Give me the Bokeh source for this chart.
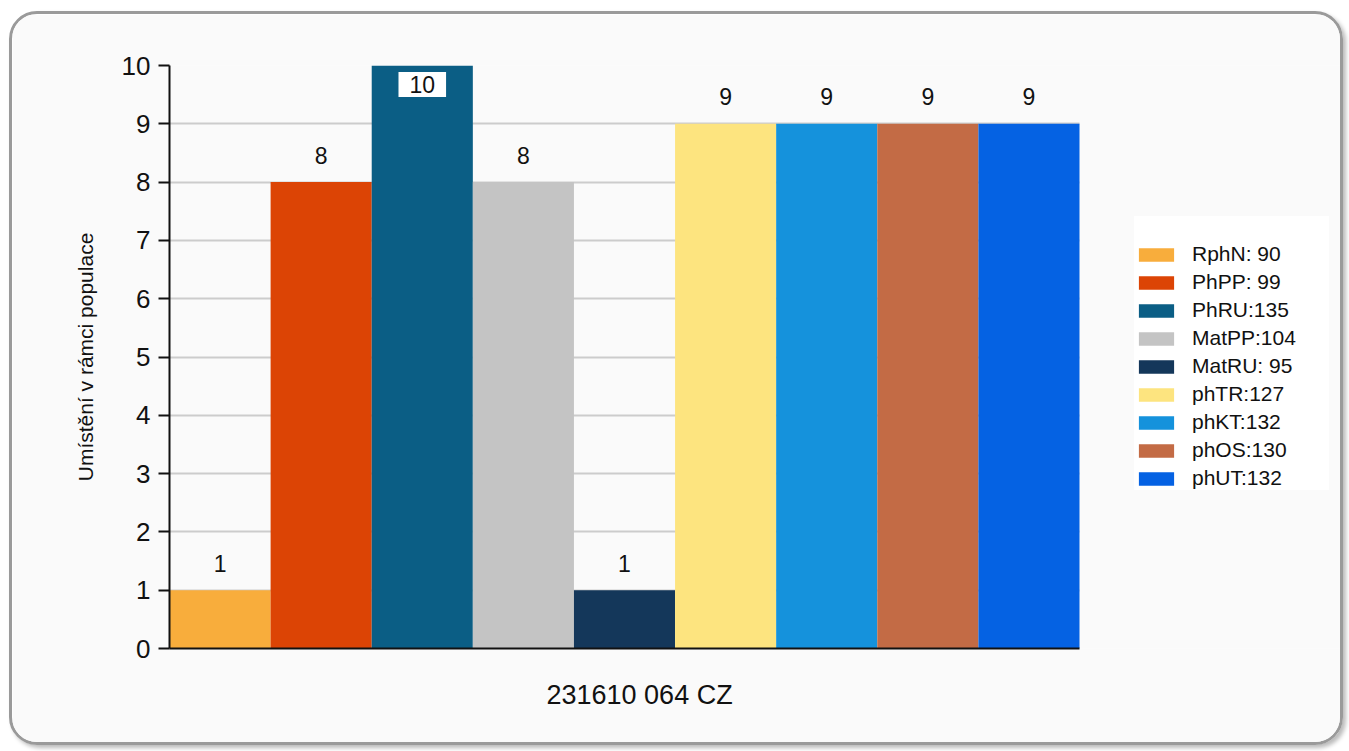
from bokeh.plotting import figure
from bokeh.models import ColumnDataSource, Legend, LegendItem, Range1d, FixedTicker, Title
from bokeh.core.properties import value
from bokeh.embed import file_html
from bokeh.resources import INLINE

categories = ["RphN: 90", "PhPP: 99", "PhRU:135", "MatPP:104", "MatRU: 95",
              "phTR:127", "phKT:132", "phOS:130", "phUT:132"]
values = [1, 8, 10, 8, 1, 9, 9, 9, 9]
colors = ["#f8ad3c", "#dc4405", "#0b5e85", "#c4c4c4", "#14375a",
          "#fde47f", "#1592dc", "#c36b45", "#0562e3"]
y_ticks = [0, 1, 2, 3, 4, 5, 6, 7, 8, 9, 10]
x_title = "231610 064 CZ"
y_title = "Umístění v rámci populace"

FONT = "Liberation Sans"
YMAX = 10

# layout constants (pixels)
FIG_W, FIG_H = 1334, 734
BORDER = 3
MB_LEFT, MB_RIGHT, MB_TOP, MB_BOTTOM = 157, 3, 51, 100
BARS_W = 910  # width of the bar area; the rest of the frame holds the legend
frame_w = FIG_W - MB_LEFT - MB_RIGHT
n = len(categories)
x_end = n * frame_w / BARS_W

p = figure(width=FIG_W, height=FIG_H, output_backend="svg", toolbar_location=None,
           x_range=Range1d(0, x_end), y_range=Range1d(0, YMAX),
           min_border_left=MB_LEFT, min_border_right=MB_RIGHT,
           min_border_top=MB_TOP, min_border_bottom=MB_BOTTOM)
p.margin = (11, 0, 0, 9)
p.styles = {"border": f"{BORDER}px solid #9a9a9a", "border-radius": "28px",
            "box-shadow": "3px 3px 4px #bbbbbb", "overflow": "hidden"}
p.background_fill_color = "#fafafa"
p.border_fill_color = "#fafafa"
p.outline_line_color = None

xs = [i + 0.5 for i in range(n)]

items = []
for i in range(n):
    r = p.vbar(x=[xs[i]], top=[values[i]], width=1.0, bottom=0,
               fill_color=colors[i], line_color=None)
    items.append(LegendItem(label=categories[i], renderers=[r]))

# labels: above bars, except at the top of the range where they go inside a white box
out_idx = [i for i in range(n) if values[i] < YMAX]
in_idx = [i for i in range(n) if values[i] >= YMAX]
outside = ColumnDataSource(dict(x=[xs[i] for i in out_idx], y=[values[i] for i in out_idx],
                                t=[str(values[i]) for i in out_idx]))
inside = ColumnDataSource(dict(x=[xs[i] for i in in_idx], y=[values[i] for i in in_idx],
                               t=[str(values[i]) for i in in_idx]))
p.text(x="x", y="y", text="t", source=outside, y_offset=-27,
       text_align="center", text_baseline="middle",
       text_font=value(FONT), text_font_size="23px", text_color="#111111")
p.text(x="x", y="y", text="t", source=inside, y_offset=19,
       text_align="center", text_baseline="middle",
       text_font=value(FONT), text_font_size="23px", text_color="#111111",
       background_fill_color="white",
       padding=dict(top=4, right=11, bottom=4, left=11))

legend = Legend(items=items, location=(965, 158), background_fill_color="white",
                background_fill_alpha=1.0, border_line_color=None,
                glyph_width=44, glyph_height=17, label_height=24, label_width=137, spacing=4,
                label_text_font=FONT, label_text_font_size="21px", label_text_color="#111111",
                label_standoff=14, padding=3, margin=0,
                title=" ", title_text_font_size="12px", title_standoff=12)
p.add_layout(legend, "center")

# x-axis title, placed under the bars
p.add_layout(Title(text=x_title, align="left", offset=377, standoff=59,
                   text_font=FONT, text_font_size="27px", text_font_style="normal",
                   text_color="#111111"), "below")

# axes
p.xaxis.bounds = (0, n)
p.xaxis.major_label_text_font_size = "0px"
p.xaxis.major_tick_line_color = None
p.xaxis.minor_tick_line_color = None
p.xaxis.ticker = FixedTicker(ticks=[])
p.xaxis.axis_line_color = "#111111"
p.xaxis.axis_line_width = 2

p.yaxis.ticker = FixedTicker(ticks=y_ticks)
p.yaxis.major_label_text_font = FONT
p.yaxis.major_label_text_font_size = "26px"
p.yaxis.major_label_text_color = "#111111"
p.yaxis.major_tick_out = 11
p.yaxis.major_tick_in = 0
p.yaxis.major_tick_line_width = 2
p.yaxis.major_tick_line_color = "#111111"
p.yaxis.minor_tick_line_color = None
p.yaxis.axis_line_color = "#111111"
p.yaxis.axis_line_width = 2
p.yaxis.major_label_standoff = 8
p.yaxis.axis_label = y_title
p.yaxis.axis_label_text_font = FONT
p.yaxis.axis_label_text_font_size = "21px"
p.yaxis.axis_label_text_font_style = "normal"
p.yaxis.axis_label_text_color = "#111111"
p.yaxis.axis_label_standoff = 22

p.xgrid.grid_line_color = None
p.ygrid.grid_line_color = "#cccccc"
p.ygrid.grid_line_width = 2
p.ygrid.cross_bounds = (0, n)

open("out.html", "w").write(file_html(p, INLINE))
